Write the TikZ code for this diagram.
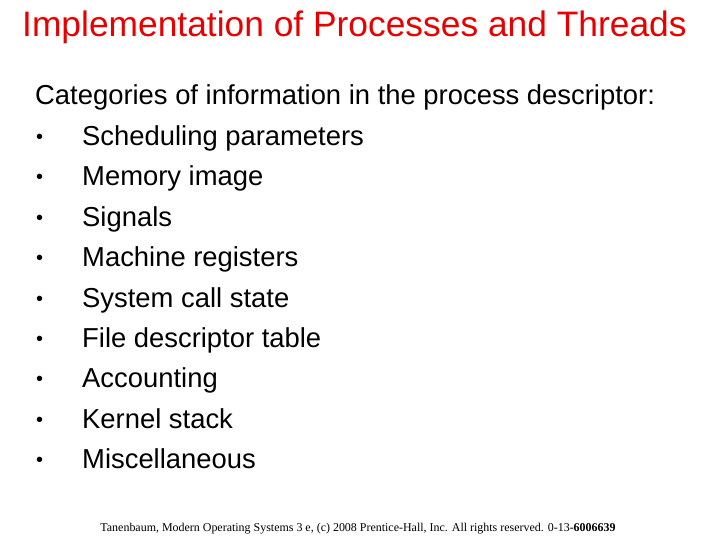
\documentclass[tikz,border=0pt]{standalone}
\usepackage{fontspec}
\setmainfont{Liberation Sans}
\newfontfamily\footfont{Liberation Serif}
\definecolor{titlered}{RGB}{230,0,0}
\begin{document}
\begin{tikzpicture}[x=1bp,y=-1bp,
  titletext/.style={anchor=base west,inner sep=0,text=titlered,font=\fontsize{35.5}{38}\selectfont},
  bodytext/.style={anchor=base west,inner sep=0,font=\fontsize{27.5}{30}\selectfont},
  bullettext/.style={anchor=base west,inner sep=0,font=\fontsize{20}{24}\selectfont},
  foottext/.style={anchor=base,inner sep=0,font=\footfont\fontsize{12}{13}\selectfont}]
\useasboundingbox[fill=white] (0,0) rectangle (720,540);
\node[titletext] (title) at (22,37) {Implementation of Processes and Threads};
\node[bodytext] (intro) at (35,105) {Categories of information in the process descriptor:};
\foreach \t [count=\i] in {Scheduling parameters,Memory image,Signals,Machine registers,System call state,File descriptor table,Accounting,Kernel stack,Miscellaneous}{
  \node[bullettext] (b\i) at (36,{103+40.4*\i}) {\textbullet};
  \node[bodytext] (t\i) at (82,{105+40.4*\i}) {\t};
}
\node[foottext] (foot) at (358,531) {Tanenbaum, Modern Operating Systems 3 e, (c) 2008 Prentice-Hall, Inc. All rights reserved. 0-13-\textbf{6006639}};
\end{tikzpicture}
\end{document}
